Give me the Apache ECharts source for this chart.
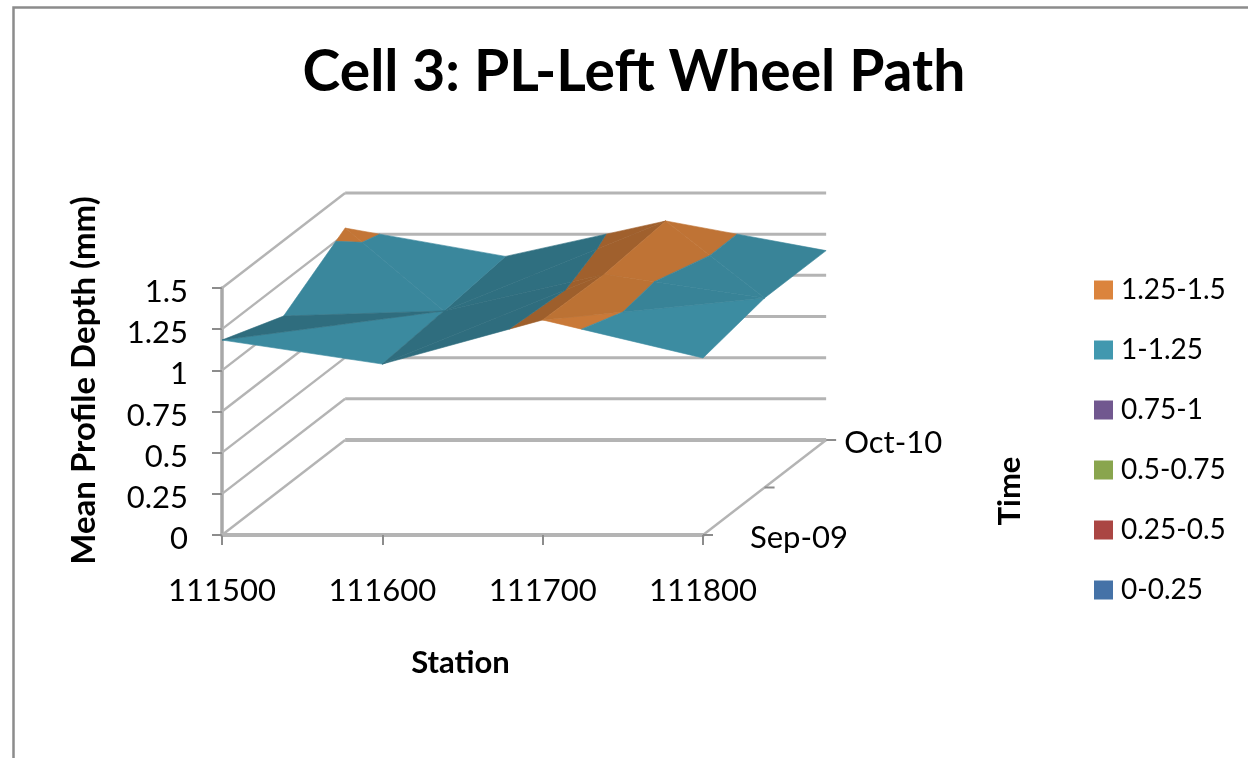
<!DOCTYPE html>
<html><head><meta charset="utf-8">
<style>html,body{margin:0;padding:0;background:#fff}#c{width:1248px;height:758px}#c canvas{filter:blur(0.45px)}</style>
<script src="https://cdn.jsdelivr.net/npm/echarts@6/dist/echarts.min.js"></script>
</head><body><div id="c"></div>
<script>
const stations = [111500, 111600, 111700, 111800];
const timeLabels = ['Sep-09', '', 'Oct-10'];
const depthSep09 = [1.184, 1.038, 1.306, 1.075];
const depthMid = [1.041, 1.072, 1.295, 1.151];
const depthOct10 = [1.287, 1.115, 1.33, 1.15];
const bandNames = ['1.25-1.5', '1-1.25', '0.75-1', '0.5-0.75', '0.25-0.5', '0-0.25'];
const bandLow = [1.25, 1, 0.75, 0.5, 0.25, 0];
const bandHigh = [1.5, 1.25, 1, 0.75, 0.5, 0.25];
const bandColors = ['#DB843D', '#4198AF', '#71588F', '#89A54E', '#AA4643', '#4572A7'];
const depthTicks = [0, 0.25, 0.5, 0.75, 1, 1.25, 1.5];
const timeLabelGap = [47, 0, 18];

const surface = [depthSep09, depthMid, depthOct10];
// Oblique projection of the time axis, in axis units per time step
const stepStation = 38.4, stepDepth = 0.2885;
// Triangles [col,row]x3 and their flat shade
const facets = [
  [[1,1],[1,2],[2,2],.73],[[1,1],[2,1],[2,2],.73],
  [[0,1],[0,2],[1,1],.89],[[0,2],[1,2],[1,1],.89],
  [[2,1],[2,2],[3,1],.87],[[2,2],[3,2],[3,1],.87],
  [[0,0],[1,0],[1,1],.91],[[0,0],[0,1],[1,1],.72],
  [[1,0],[2,0],[2,1],.72],[[1,0],[1,1],[2,1],.72],
  [[2,0],[3,0],[3,1],.92],[[2,0],[2,1],[3,1],.86]
];
const vert = ([c, r]) => [stations[c], r, surface[r][c]];
function project(api, s, t, d) {
  return api.coord([s + t * stepStation, d + t * stepDepth]);
}
function clipBand(poly, limit, keepAbove) {
  const out = [];
  const inside = p => keepAbove ? p[2] >= limit : p[2] <= limit;
  for (let i = 0; i < poly.length; i++) {
    const a = poly[i], b = poly[(i + 1) % poly.length];
    if (inside(a)) out.push(a);
    if (inside(a) !== inside(b)) {
      const k = (limit - a[2]) / (b[2] - a[2]);
      out.push([a[0] + k * (b[0] - a[0]), a[1] + k * (b[1] - a[1]), limit]);
    }
  }
  return out;
}
function shadeColor(hex, f) {
  const n = parseInt(hex.slice(1), 16);
  return 'rgb(' + [n >> 16, (n >> 8) & 255, n & 255].map(v => Math.round(v * f)).join(',') + ')';
}
const facetData = facets.map((f, i) => {
  const v = f.slice(0, 3).map(vert);
  return [(v[0][0] + v[1][0] + v[2][0]) / 3, (v[0][2] + v[1][2] + v[2][2]) / 3, i];
});
const bandSeries = bandNames.map((name, b) => ({
  name, type: 'custom', coordinateSystem: 'cartesian2d', z: 5, silent: true,
  itemStyle: { color: bandColors[b] },
  data: facetData,
  renderItem(params, api) {
    const f = facets[params.dataIndex];
    let poly = f.slice(0, 3).map(vert);
    poly = clipBand(clipBand(poly, bandLow[b], true), bandHigh[b], false);
    if (poly.length < 3) return null;
    const col = shadeColor(bandColors[b], f[3]);
    return { type: 'polygon', shape: { points: poly.map(p => project(api, p[0], p[1], p[2])) },
      style: { fill: col, stroke: col, lineWidth: 0.6 } };
  }
}));
const gridCol = '#b4b4b4', tickCol = '#8c8c8c';
const frameSeries = {
  name: 'frame', type: 'custom', coordinateSystem: 'cartesian2d', z: 1, silent: true,
  data: [[stations[0], 0]],
  renderItem(params, api) {
    const s0 = stations[0], s1 = stations[stations.length - 1], T = timeLabels.length - 1;
    const kids = [];
    const seg = (a, b, w, c) => kids.push({ type: 'line', shape: { x1: a[0], y1: a[1], x2: b[0], y2: b[1] },
      style: { stroke: c || gridCol, lineWidth: w } });
    depthTicks.forEach(d => {
      seg(project(api, s0, 0, d), project(api, s0, T, d), 2.4);
      seg(project(api, s0, T, d), project(api, s1, T, d), d === 0 ? 4 : 3);
    });
    seg(project(api, s1, 0, 0), project(api, s1, T, 0), 2.4);
    timeLabels.forEach((lab, t) => {
      const p = project(api, s1, t, 0);
      seg(p, [p[0] + 10, p[1]], 2, tickCol);
      if (lab) kids.push({ type: 'text', style: { text: lab, x: p[0] + timeLabelGap[t], y: p[1] + 3, verticalAlign: 'middle',
        fontFamily: 'Lato', fontSize: 31, fill: '#000' } });
    });
    return { type: 'group', children: kids };
  }
};
const chart = echarts.init(document.getElementById('c'), null, { renderer: 'canvas' });
chart.setOption({
  animation: false,
  backgroundColor: '#fff',
  title: { text: 'Cell 3: PL-Left Wheel Path', left: 629, top: 39, textAlign: 'center',
    textStyle: { fontFamily: 'Lato', fontWeight: 'bold', fontSize: 57, color: '#000' } },
  grid: { left: 222, top: 288, width: 481, height: 247 },
  xAxis: {
    type: 'value', min: 111500, max: 111800, interval: 100, name: 'Station', nameLocation: 'middle', nameGap: 112,
    nameTextStyle: { fontFamily: 'Lato', fontWeight: 'bold', fontSize: 31, color: '#000', padding: [0, 4, 0, 0] },
    axisLine: { show: true, lineStyle: { color: gridCol, width: 4 } },
    axisTick: { show: true, length: 10, lineStyle: { color: tickCol, width: 2 } },
    splitLine: { show: false },
    axisLabel: { margin: 40, fontFamily: 'Lato', fontSize: 31, color: '#000', formatter: v => String(v) }
  },
  yAxis: {
    type: 'value', min: 0, max: 1.5, interval: 0.25, name: 'Mean Profile Depth (mm)', nameLocation: 'middle', nameGap: 121,
    nameTextStyle: { fontFamily: 'Lato', fontWeight: 'bold', fontSize: 33, color: '#000', padding: [0, 0, 0, 62] },
    axisLine: { show: true, lineStyle: { color: '#a8a8a8', width: 3.5 } },
    axisTick: { show: true, length: 10, lineStyle: { color: tickCol, width: 2 } },
    splitLine: { show: false },
    axisLabel: { margin: 34, fontFamily: 'Lato', fontSize: 31, color: '#000', verticalAlign: 'top', lineHeight: 8, formatter: v => String(v) }
  },
  legend: {
    data: bandNames, orient: 'vertical', left: 1089, top: 271, itemWidth: 19, itemHeight: 19, itemGap: 32,
    icon: 'rect', selectedMode: false,
    textStyle: { fontFamily: 'Lato', fontSize: 28, color: '#000', padding: [0, 0, 0, 3] }
  },
  graphic: [
    { type: 'polyline', silent: true, z: 0, shape: { points: [[1248, 7.5], [13.5, 7.5], [13.5, 758]] },
      style: { fill: null, stroke: '#8c8c8c', lineWidth: 2.5 } },
    { type: 'text', silent: true, rotation: Math.PI / 2, x: 1010, y: 491,
      style: { text: 'Time', align: 'center', verticalAlign: 'middle', fontFamily: 'Lato', fontWeight: 'bold', fontSize: 31, fill: '#000' } }
  ],
  series: [frameSeries].concat(bandSeries)
});
</script></body></html>
